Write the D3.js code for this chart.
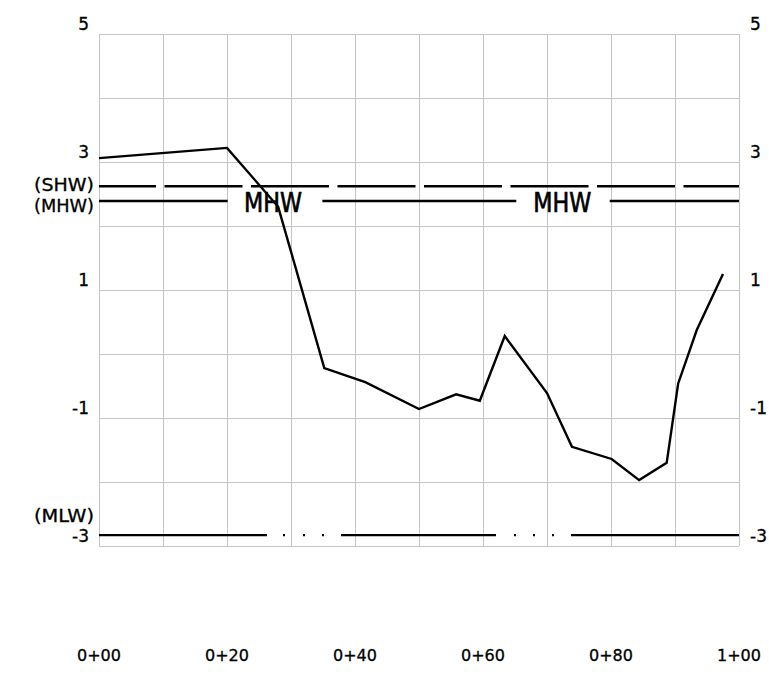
<!DOCTYPE html>
<html>
<head>
<meta charset="utf-8">
<script src="https://cdn.jsdelivr.net/npm/d3@7/dist/d3.min.js"></script>
<style>
  html, body { margin: 0; padding: 0; background: #fff; }
  svg { display: block; }
  text { font-family: "DejaVu Sans", sans-serif; fill: #000; }
</style>
</head>
<body>
<svg id="chart" width="769" height="678"></svg>
<script>
// ---- data ----
const stations   = [0, 20, 28, 35.2, 41.6, 50, 55.8, 59.5, 63.4, 70, 73.9, 80.1, 84.4, 88.7, 90.5, 93.4, 97.5];
const elevations = [3.06, 3.22, 2.30, -0.22, -0.44, -0.86, -0.63, -0.73, 0.28, -0.61, -1.45, -1.64, -1.97, -1.70, -0.46, 0.375, 1.25];

const xTickValues = [0, 20, 40, 60, 80, 100];
const xTickLabels = ["0+00", "0+20", "0+40", "0+60", "0+80", "1+00"];
const yTickValues = [5, 3, 1, -1, -3];
const yTickLabels = ["5", "3", "1", "-1", "-3"];

const shwLevel = 2.62;
const mhwLevel = 2.39;
const mlwLevel = -2.83;
const mhwSegments = [[0, 20.1], [34.9, 65.2], [79.8, 100]];
const mhwTextStations = [27.2, 72.4];

// ---- layout ----
const svg = d3.select("#chart");
const x = d3.scaleLinear().domain([0, 100]).range([99, 739]);
const y = d3.scaleLinear().domain([-3, 5]).range([546, 34]);

// grid
const grid = svg.append("g").attr("stroke", "#c4c4c4").attr("stroke-width", 1).attr("shape-rendering", "crispEdges");
grid.selectAll("line.v").data(d3.range(0, 101, 10)).join("line")
  .attr("x1", d => Math.round(x(d)) + 0.5).attr("x2", d => Math.round(x(d)) + 0.5)
  .attr("y1", y(5)).attr("y2", y(-3));
grid.selectAll("line.h").data(d3.range(-3, 6, 1)).join("line")
  .attr("x1", x(0)).attr("x2", x(100))
  .attr("y1", d => Math.round(y(d)) + 0.5).attr("y2", d => Math.round(y(d)) + 0.5);

// SHW dashed line
svg.append("line")
  .attr("x1", x(0)).attr("x2", x(100)).attr("y1", y(shwLevel)).attr("y2", y(shwLevel))
  .attr("stroke", "#000").attr("stroke-width", 2.4)
  .attr("stroke-dasharray", "78 8.5").attr("stroke-dashoffset", 21);

// MHW line segments
svg.selectAll("line.mhw").data(mhwSegments).join("line")
  .attr("x1", d => x(d[0])).attr("x2", d => x(d[1]))
  .attr("y1", y(mhwLevel)).attr("y2", y(mhwLevel))
  .attr("stroke", "#000").attr("stroke-width", 2.4);

svg.selectAll("text.mhw").data(mhwTextStations).join("text")
  .attr("x", d => x(d)).attr("y", y(mhwLevel) + 10.5)
  .attr("text-anchor", "middle")
  .attr("font-size", 27)
  .attr("stroke", "#000").attr("stroke-width", 0.7)
  .attr("textLength", 58).attr("lengthAdjust", "spacingAndGlyphs")
  .text("MHW");

// MLW dash-dot line
svg.append("line")
  .attr("x1", x(0)).attr("x2", x(100)).attr("y1", y(mlwLevel)).attr("y2", y(mlwLevel))
  .attr("stroke", "#000").attr("stroke-width", 2.4)
  .attr("stroke-dasharray", "168 16 2 18 2 17 2 17 155 18 2 17 2 17 2 17 200");

// profile
const line = d3.line().x(d => x(d[0])).y(d => y(d[1]));
svg.append("path")
  .datum(stations.map((s, i) => [s, elevations[i]]))
  .attr("d", line)
  .attr("fill", "none").attr("stroke", "#000").attr("stroke-width", 2.4)
  .attr("stroke-linejoin", "miter");

// y labels (left & right)
const yl = yTickValues.map((v, i) => ({v, t: yTickLabels[i]}));
svg.selectAll("text.yl").data(yl).join("text")
  .attr("x", 89).attr("y", d => y(d.v) - 10).attr("dy", "0.36em")
  .attr("text-anchor", "end").attr("font-size", 17)
  .attr("stroke", "#000").attr("stroke-width", 0.3).text(d => d.t);
svg.selectAll("text.yr").data(yl).join("text")
  .attr("x", 750).attr("y", d => y(d.v) - 10).attr("dy", "0.36em")
  .attr("text-anchor", "start").attr("font-size", 17)
  .attr("stroke", "#000").attr("stroke-width", 0.3).text(d => d.t);

// named level labels
const named = [["(SHW)", shwLevel, -1], ["(MHW)", mhwLevel, 5], ["(MLW)", mlwLevel, -19]];
svg.selectAll("text.nm").data(named).join("text")
  .attr("x", 94).attr("y", d => y(d[1]) + d[2]).attr("dy", "0.36em")
  .attr("text-anchor", "end").attr("font-size", 17)
  .attr("stroke", "#000").attr("stroke-width", 0.3)
  .attr("textLength", 60).attr("lengthAdjust", "spacingAndGlyphs")
  .text(d => d[0]);

// x labels
svg.selectAll("text.xl").data(xTickValues).join("text")
  .attr("x", d => x(d)).attr("y", 655).attr("dy", "0.36em")
  .attr("text-anchor", "middle").attr("font-size", 16)
  .attr("stroke", "#000").attr("stroke-width", 0.3)
  .text((d, i) => xTickLabels[i]);
</script>
</body>
</html>
